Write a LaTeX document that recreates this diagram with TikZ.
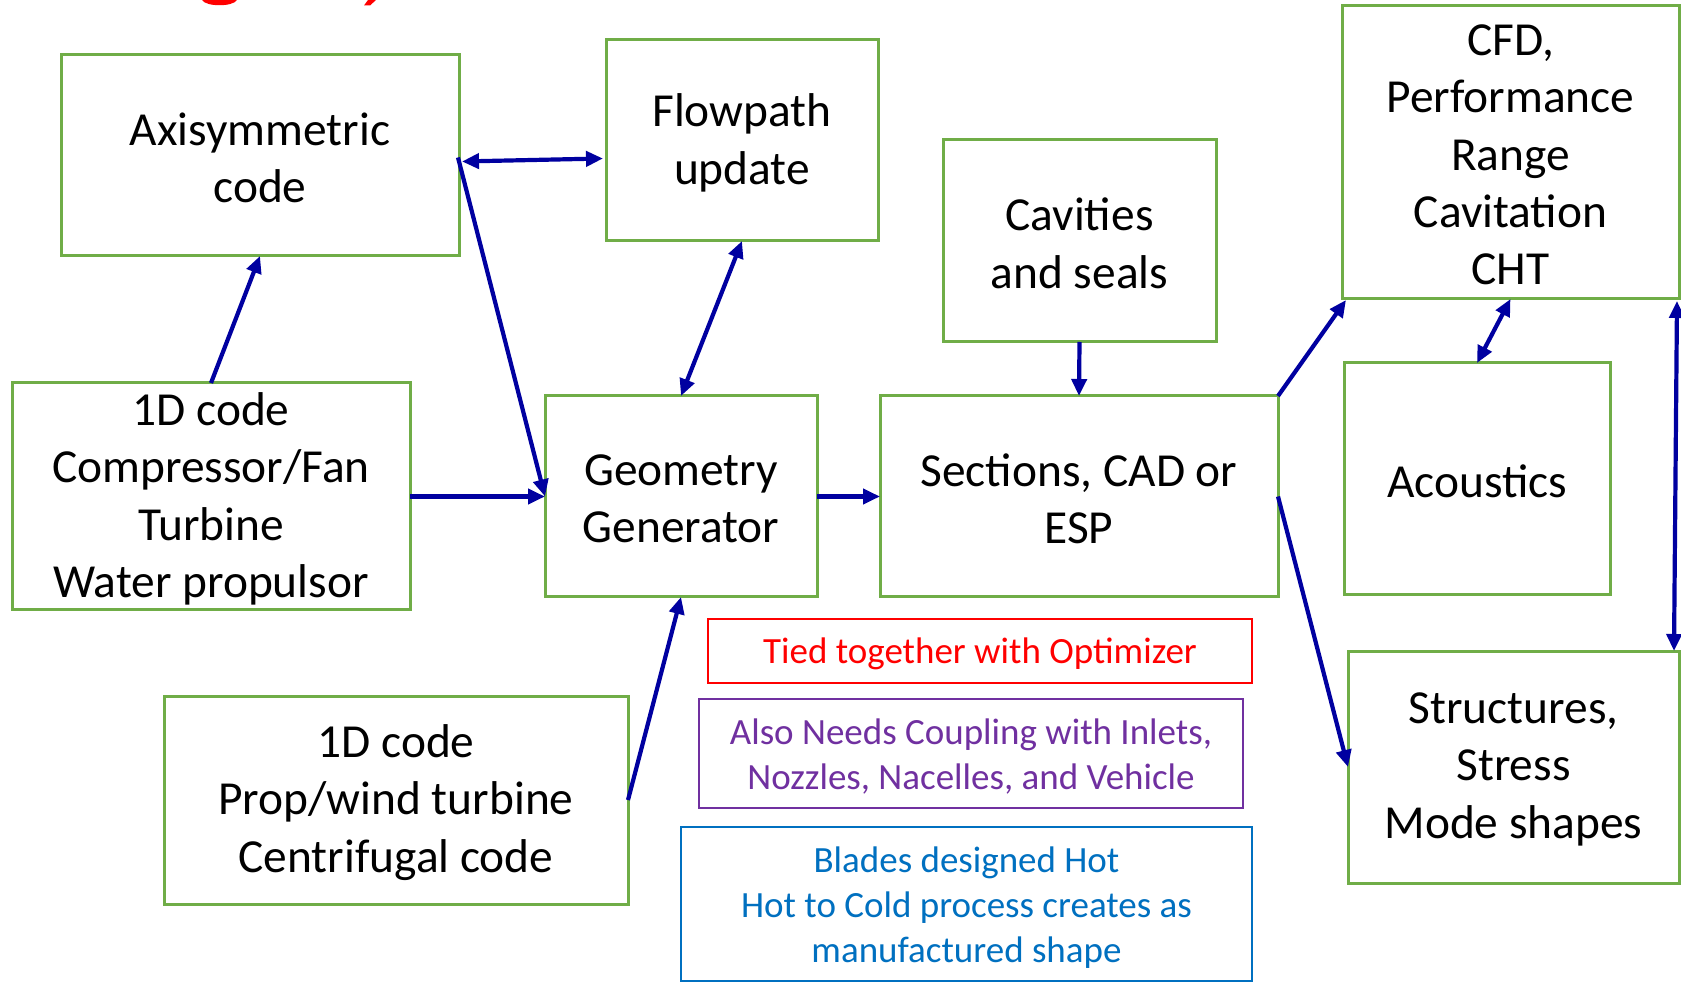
\documentclass[tikz,border=0pt]{standalone}
\usepackage{fontspec}
\setmainfont{Carlito}
\usetikzlibrary{arrows.meta,calc}
\definecolor{boxgreen}{RGB}{112,173,71}
\definecolor{arrowblue}{RGB}{0,0,160}
\definecolor{notered}{RGB}{255,0,0}
\definecolor{notepurple}{RGB}{112,48,160}
\definecolor{noteblue}{RGB}{0,112,192}
\begin{document}
\begin{tikzpicture}[x=0.5pt,y=-0.5pt,
  box/.style={draw=boxgreen,line width=1.5pt,inner sep=0pt,outer sep=0pt},
  boxtext/.style={align=center,inner sep=0pt,yshift=-1.2pt,
    font=\fontsize{23.7pt}{28.7pt}\selectfont},
  note/.style={line width=1.1pt,inner sep=0pt,outer sep=0pt},
  notetext/.style={align=center,inner sep=0pt,yshift=-1.6pt,
    font=\fontsize{18.5pt}{22.5pt}\selectfont},
  tip/.tip={Triangle[length=8.5pt,width=7.5pt]},
  link/.style={draw=arrowblue,line width=2.1pt,-tip},
  both/.style={draw=arrowblue,line width=2.1pt,tip-tip}]
\fill[white] (0,0) rectangle (1681,983);
\useasboundingbox (0,0) rectangle (1681,983);
% clipped title fragments
\fill[notered] (202,0) .. controls (206,7) and (233,7) .. (237,0) -- cycle;
\fill[notered] (368,0) -- (376,0) -- (370,5.5) -- (364,5.5) -- cycle;
% boxes
\node[box,minimum width=199pt,minimum height=100.5pt] (axi) at (260,155.5) {};
\node[boxtext] (axi-t) at (axi) {Axisymmetric\\code};
\node[box,minimum width=136pt,minimum height=100.5pt] (flow) at (742,140.5) {};
\node[boxtext] (flow-t) at (flow) {Flowpath\\update};
\node[box,minimum width=136.5pt,minimum height=101pt] (cav) at (1079.5,241) {};
\node[boxtext] (cav-t) at (cav) {Cavities\\and seals};
\node[box,minimum width=168.5pt,minimum height=146.5pt] (cfd) at (1510.5,152.5) {};
\node[boxtext] (cfd-t) at (cfd) {CFD,\\Performance\\Range\\Cavitation\\CHT};
\node[box,minimum width=199pt,minimum height=113.5pt] (comp) at (211,496.5) {};
\node[boxtext] (comp-t) at (comp) {1D code\\Compressor/Fan\\Turbine\\Water propulsor};
\node[box,minimum width=136pt,minimum height=100.5pt] (geo) at (681,496.5) {};
\node[boxtext] (geo-t) at (geo) {Geometry\\Generator};
\node[box,minimum width=199pt,minimum height=100.5pt] (sec) at (1079,496.5) {};
\node[boxtext] (sec-t) at (sec) {Sections, CAD or\\ESP};
\node[box,minimum width=133pt,minimum height=116pt] (aco) at (1477,479) {};
\node[boxtext] (aco-t) at (aco) {Acoustics};
\node[box,minimum width=165.5pt,minimum height=116pt] (str) at (1513.5,767) {};
\node[boxtext] (str-t) at (str) {Structures,\\Stress\\Mode shapes};
\node[box,minimum width=232pt,minimum height=104pt] (prop) at (396,800) {};
\node[boxtext] (prop-t) at (prop) {1D code\\Prop/wind turbine\\Centrifugal code};
% notes
\node[note,draw=notered,minimum width=272pt,minimum height=32pt] (tied) at (980,651) {};
\node[notetext,text=notered] (tied-t) at (tied) {Tied together with Optimizer};
\node[note,draw=notepurple,minimum width=272pt,minimum height=54.5pt] (also) at (971,753.5) {};
\node[notetext,text=notepurple] (also-t) at (also) {Also Needs Coupling with Inlets,\\Nozzles, Nacelles, and Vehicle};
\node[note,draw=noteblue,minimum width=285.5pt,minimum height=77pt] (blades) at (966.5,904) {};
\node[notetext,text=noteblue] (blades-t) at (blades) {Blades designed Hot\\Hot to Cold process creates as\\manufactured shape};
% connectors
\draw[both] ($(axi.east)+(3,6)$) -- ($(flow.west)+(-3,18)$);
\draw[link] ($(axi.east)+(-1,2)$) -- (geo.west);
\draw[link] (comp.north) -- (axi.south);
\draw[link] (comp.east) -- (geo.west);
\draw[both] (flow.south) -- (geo.north);
\draw[link] (geo.east) -- (sec.west);
\draw[link] (cav.south) -- (sec.north);
\draw[link] (sec.north east) -- ($(cfd.south west)+(4,1)$);
\draw[link] (sec.east) -- (str.west);
\draw[both] (cfd.south) -- (aco.north);
\draw[both] ($(cfd.south east)+(-2,2)$) -- ($(str.north east)+(-5,0)$);
\draw[link] (prop.east) -- (geo.south);
\end{tikzpicture}
\end{document}
